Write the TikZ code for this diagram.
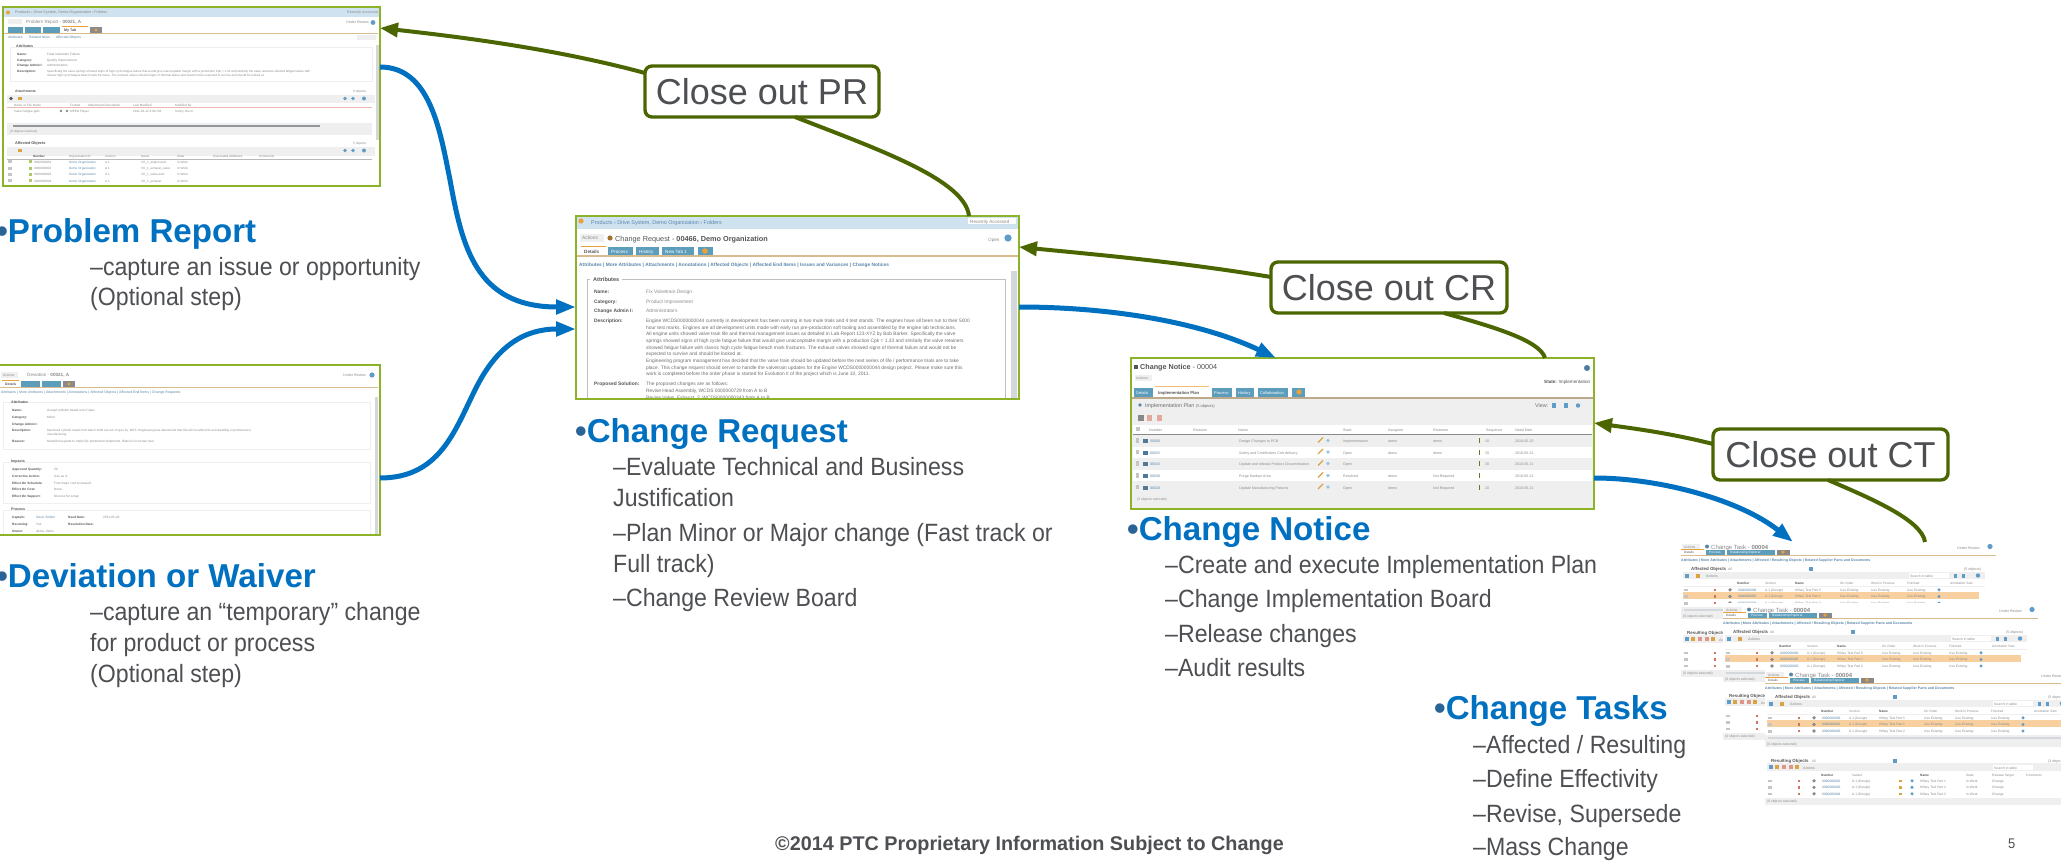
\documentclass[tikz,border=0pt]{standalone}
\usepackage{fontspec}
\setmainfont{Liberation Sans}
\newfontfamily\bodyf[FakeStretch=0.925]{Liberation Sans}
\usetikzlibrary{arrows.meta}
\definecolor{panelgreen}{HTML}{8CB22A}
\definecolor{closegreen}{HTML}{4B6600}
\definecolor{flowblue}{HTML}{0070C0}
\definecolor{bulletblue}{HTML}{2A6496}
\definecolor{bodygrey}{HTML}{4D4F53}
\definecolor{hdrblue}{HTML}{CFE2F0}
\definecolor{tabteal}{HTML}{5C9DBB}
\definecolor{tanline}{HTML}{D8BC90}
\definecolor{tabicon}{HTML}{E9A23B}
\definecolor{txgrey}{HTML}{8A8A8A}
\definecolor{txdark}{HTML}{555555}
\definecolor{txblue}{HTML}{5A86A8}
\definecolor{bandgrey}{HTML}{EFEFEF}
\definecolor{rowgrey}{HTML}{F5F5F5}
\definecolor{hlorange}{HTML}{F8CF9E}
\definecolor{scrollgrey}{HTML}{D4D8DC}
\definecolor{iconblue}{HTML}{5F9CC8}
\definecolor{pensy}{HTML}{D9A441}
\definecolor{redic}{HTML}{C8503C}
\newcounter{tn}
\newcommand\tx[5][txgrey]{\stepcounter{tn}\node[anchor=base west,inner sep=0pt,text=#1,font=\fontsize{#2}{#2}\selectfont,name=t\arabic{tn}] at (#3,#4) {#5};}
\newcommand\tb[5][txdark]{\stepcounter{tn}\node[anchor=base west,inner sep=0pt,text=#1,font=\fontsize{#2}{#2}\selectfont\bfseries,name=t\arabic{tn}] at (#3,#4) {#5};}
\newcommand\rc[5][bandgrey]{\fill[#1] (#2,#3) rectangle (#4,#5);}
\newcommand\ic[4][iconblue]{\fill[#1] (#2,#3) circle[radius=#4];}
\newcommand\hd[4][0]{\stepcounter{tn}\node[headtext,name=t\arabic{tn}] at (#2,#3) {{\color{bulletblue}•}#4};}
\newcommand\bl[3]{\stepcounter{tn}\node[bodytext,name=t\arabic{tn}] at (#1,#2) {#3};}
\newcommand\ctpanel[3]{%
\begin{scope}[shift={(#1,#2)}]
\rc[white]{0}{0}{315}{#3}
\rc[bandgrey]{1}{3.5}{19}{9.5}
\tx{3.4}{3}{8.2}{Actions}
\ic[txblue]{26}{6.5}{2}
\tx{6}{30}{9}{Change Task - \textbf{00004}}
\tx{3.6}{276}{9}{Under Review}
\ic{309}{6.5}{2.6}
\rc[white]{0}{9}{23}{14.5}
\rc[tabicon]{0}{8.5}{23}{9.2}
\rc[tabteal]{25}{9.5}{44}{14.5}
\rc[tabteal]{46}{9.5}{94}{14.5}
\rc[txdark!70]{96}{9.5}{109}{14.5}
\ic[tabicon]{102}{12}{1.8}
\tx[txdark]{3.2}{3}{13.5}{Details}
\tx[white]{3.2}{28}{13.5}{Process}
\tx[white]{3.2}{49}{13.5}{Relationship Explorer}
\rc[tanline]{0}{14.5}{315}{15.2}
\tb[txblue]{3.55}{0}{21.5}{Attributes | More Attributes | Attachments | Affected / Resulting Objects | Related Supplier Parts and Documents}
\tb{4.4}{10}{30}{Affected Objects}
\tx{3.4}{47}{30}{All}
\rc[iconblue]{128}{26.5}{132}{30.5}
\tx{3.6}{283}{30}{(5 objects)}
\rc{2}{32}{304}{39}
\rc[iconblue]{4}{33.5}{8}{37.5}
\rc[pensy]{15}{33.5}{19}{37.5}
\tx{3.6}{25}{37}{Actions}
\rc[white]{228}{33}{268}{38}
\tx{3.4}{229}{37}{Search in table}
\rc[iconblue]{273}{33.5}{276}{37.5}
\rc[iconblue]{281}{33.5}{284}{37.5}
\ic{297}{35.5}{2.2}
\rc[white]{2}{39}{304}{46}
\tb{3.2}{56}{44}{Number}
\tx{3.2}{84}{44}{Version}
\tb{3.2}{114}{44}{Name}
\tx{3.2}{159}{44}{On Order}
\tx{3.2}{190}{44}{Work in Process}
\tx{3.2}{226}{44}{Finished}
\tx{3.2}{269}{44}{Annotation Sets}
\rc[bandgrey]{2}{46}{304}{46.5}
\rc[hlorange]{2}{52}{298}{59}
\foreach \yy/\pp/\nn in {51/5/0000000006,57.7/1/0000000002,64.2/2/0000000003}{
\rc[txgrey!50]{3}{\yy-2.5}{7}{\yy+0.3}
\rc[redic!80]{33}{\yy-2.5}{35}{\yy}
\ic[txgrey]{49}{\yy-1.2}{1.8}
\tx[txblue]{3.3}{57}{\yy}{\nn}
\tx{3.3}{84}{\yy}{A.1 (Design)}
\tx{3.3}{114}{\yy}{Hillary Test Part \pp}
\tx{3.3}{159}{\yy}{Use Existing}
\tx{3.3}{190}{\yy}{Use Existing}
\tx{3.3}{226}{\yy}{Use Existing}
\ic{258}{\yy-1.2}{1.7}
}
\rc[bandgrey]{0}{67}{310}{79}
\rc[scrollgrey]{3}{68.5}{300}{71}
\tx{3.4}{2}{77}{(0 objects selected)}
\tb{4.4}{6}{94}{Resulting Objects}
\tx{3.4}{47}{94}{All}
\rc[iconblue]{128}{90.5}{132}{94.5}
\tx{3.6}{283}{94}{(3 objects)}
\rc{2}{95}{304}{103}
\rc[iconblue]{4}{97}{8}{101}
\rc[pensy]{10}{97}{14}{101}
\rc[redic!60]{17}{97}{21}{101}
\rc[redic!60]{24}{97}{28}{101}
\rc[pensy]{30}{97}{34}{101}
\tx{3.6}{38}{101}{Actions}
\rc[white]{228}{97}{268}{102}
\tx{3.4}{229}{101}{Search in table}
\tb{3.2}{56}{108}{Number}
\tx{3.2}{87}{108}{Variant}
\tb{3.2}{155}{108}{Name}
\tx{3.2}{201}{108}{State}
\tx{3.2}{227}{108}{Release Target}
\tx{3.2}{261}{108}{Comments}
\foreach \yy/\pp/\nn in {114/1/0000000002,120.6/2/0000000003,127/3/0000000004}{
\rc[txgrey!50]{3}{\yy-2.5}{7}{\yy+0.3}
\rc[redic!80]{33}{\yy-2.5}{35}{\yy}
\ic[txgrey]{49}{\yy-1.2}{1.8}
\tx[txblue]{3.3}{57}{\yy}{\nn}
\tx{3.3}{87}{\yy}{A.1 (Design)}
\rc[pensy]{134}{\yy-2.5}{137}{\yy}
\ic{147}{\yy-1.2}{1.7}
\tx{3.3}{155}{\yy}{Hillary Test Part \pp}
\tx{3.3}{201}{\yy}{In Work}
\tx{3.3}{227}{\yy}{Change}
}
\rc[bandgrey]{0}{129.5}{310}{136.5}
\tx{3.4}{2}{134}{(0 objects selected)}
\end{scope}}
\tikzset{
 panelbox/.style={rectangle,draw=panelgreen,line width=1.9pt,fill=white,inner sep=0pt,outer sep=0pt},
 panelline/.style={draw=panelgreen,line width=1.9pt},
 closebox/.style={rectangle,draw=closegreen,line width=3.4pt,rounded corners=7pt,fill=white,text=bodygrey,inner sep=0pt,outer sep=0pt,font=\fontsize{36}{36}\selectfont},
 greenflow/.style={draw=closegreen,line width=4pt,-{Triangle[length=18pt,width=14pt]}},
 greenline/.style={draw=closegreen,line width=4pt},
 blueflow/.style={draw=flowblue,line width=5pt,-{Triangle[length=20pt,width=14pt]}},
 headtext/.style={anchor=base west,inner sep=0pt,text=flowblue,font=\fontsize{33.1}{33}\selectfont\bfseries},
 bodytext/.style={anchor=base west,inner sep=0pt,text=bodygrey,font=\fontsize{25}{25}\bodyf},
}
\begin{document}
\begin{tikzpicture}[x=1pt,y=-1pt]
\useasboundingbox (0,0) rectangle (2061,861);
\fill[white] (0,0) rectangle (2061,861);
\begin{scope}
\clip (0,0) rectangle (2061,861);

% ---- Problem Report screenshot
\node[panelbox,minimum width=377pt,minimum height=179pt] (pr) at (191.5,96.5) {};
\begin{scope}
\clip (pr.north west) rectangle (pr.south east);
\rc[hdrblue]{3}{8}{380}{17}
\ic[tabicon]{8}{12.5}{2}
\tx{3.8}{15}{14}{Products › Drive System, Demo Organization › Folders}
\tx{3.6}{347}{14}{Recently Accessed}
\rc{8}{19}{22}{24}
\tx{4.6}{26}{23.5}{Problem Report - \textbf{00021, A}}
\tx{3.6}{346}{24}{Under Review}
\ic{373}{22.5}{2.4}
\rc[tabteal]{8}{27}{23}{33}
\rc[tabteal]{25}{27}{41}{33}
\rc[tabteal]{43}{27}{60}{33}
\rc[tabicon]{62}{26}{88}{26.8}
\rc[txgrey]{90}{27}{102}{33}
\ic[tabicon]{96}{30}{1.6}
\tb{3.6}{64}{31.5}{My Tab}
\rc[tanline]{3}{33}{378}{33.7}
\tx[txblue]{3.4}{8}{38.5}{Attributes}
\tx[txblue]{3.4}{29}{38.5}{Related Items}
\tx[txblue]{3.4}{56}{38.5}{Affected Objects}
\rc{357}{35}{376}{40}
\draw[bandgrey,line width=.5pt] (10,47) rectangle (372,81);
\rc[scrollgrey]{375.5}{45}{378.5}{140}
\tb{3.6}{16}{48}{Attributes}
\tb{3.2}{17}{55.5}{Name:}\tx{3.2}{47}{55.5}{Fatal Valvetrain Failure}
\tb{3.2}{17}{61.5}{Category:}\tx{3.2}{47}{61.5}{Quality Improvement}
\tb{3.2}{17}{67}{Change Admin I:}\tx{3.2}{47}{67}{Administrators}
\tb{3.2}{17}{72.5}{Description:}
\tx{3.02}{47}{72.5}{Specifically the valve springs showed signs of high cycle fatigue failure that would give unacceptable margin with a production Cpk = 1.33 and similarly the valve retainers showed fatigue failure with}
\tx{3.02}{47}{77}{classic high cycle fatigue beach mark fractures. The exhaust valves showed signs of thermal failure and would not be expected to survive and should be looked at.}
\tb{3.4}{15}{92.5}{Attachments}
\tx{3.2}{353}{92.5}{0 objects}
\rc{7}{95}{375}{103}
\ic[txdark]{11}{98.5}{1.8}
\rc[pensy]{18}{97}{22}{100.5}
\ic{345}{98.5}{1.8}\ic{353}{98.5}{1.8}\ic{364}{98.5}{2}
\tx{3.1}{14}{106.5}{Name or File Name}
\tx{3.1}{70}{106.5}{Format}
\tx{3.1}{88}{106.5}{Attachment Description}
\tx{3.1}{133}{106.5}{Last Modified}
\tx{3.1}{175}{106.5}{Modified By}
\rc[redic!40]{7}{107.5}{372}{108}
\tx{3.1}{14}{112.5}{Valve Fatigue.pptx}
\ic[txgrey]{61}{111}{1.4}\ic[txgrey]{67}{111}{1.4}
\tx{3.1}{70}{112.5}{MPEG Player}
\tx{3.1}{133}{112.5}{2011-03-12 2:04 PM}
\tx{3.1}{175}{112.5}{Sohny, Becci}
\rc{7}{123}{372}{135}
\rc[scrollgrey!70!black]{13}{125}{320}{127.5}
\tx{3.1}{10}{133}{(0 objects selected)}
\tb{3.8}{15}{144.5}{Affected Objects}
\tx{3.2}{353}{144.5}{5 objects}
\rc{7}{147}{375}{156}
\rc[pensy]{18}{149}{22}{152.5}
\ic{345}{150.5}{1.8}\ic{353}{150.5}{1.8}\ic{364}{150.5}{2}
\tb{3.1}{33}{158}{Number}
\tx{3.1}{69}{158}{Organization ID}
\tx{3.1}{105}{158}{Version}
\tx{3.1}{141}{158}{Name}
\tx{3.1}{177}{158}{State}
\tx{3.1}{213}{158}{Associated Attributes}
\tx{3.1}{259}{158}{Comments}
\rc[txgrey!60]{7}{159.3}{372}{159.8}
\foreach \yy/\aa/\bb/\cc in {163.5/0000000001/VK\_1\_engine.asm/A.1,170/0000000002/VK\_1\_exhaust\_valve/A.1,176/0000000003/VK\_1\_valve.asm/A.1,182.5/0000000004/VK\_1\_exhaust/A.1}{
\rc[txgrey!50]{8}{\yy-3}{12}{\yy}
\rc[panelgreen!70]{29}{\yy-3}{32}{\yy}
\tx{3.1}{34}{\yy}{\aa}
\tx[txblue]{3.1}{69}{\yy}{Demo Organization}
\tx{3.1}{105}{\yy}{\cc}
\tx{3.1}{141}{\yy}{\bb}
\tx{3.1}{177}{\yy}{In Work}
}
\end{scope}
\draw[panelline] (pr.north west) rectangle (pr.south east);

% ---- Deviation screenshot
\node[panelbox,minimum width=381pt,minimum height=170pt] (dv) at (189.5,450) {};
\begin{scope}
\clip (dv.north west) rectangle (dv.south east);
\rc{1}{372}{18}{378}
\tx{3.4}{3}{376.5}{Actions}
\tx{4.6}{27}{376.5}{Deviation - \textbf{00021, A}}
\tx{3.6}{343}{376.5}{Under Review}
\ic{372}{375}{2.6}
\rc[tabicon]{2}{380}{19}{380.8}
\rc[tabteal]{21}{381}{40}{387}
\rc[tabteal]{42}{381}{61}{387}
\rc[txgrey]{63}{381}{75}{387}
\ic[tabicon]{69}{384}{1.6}
\tb{3.4}{5}{385.5}{Details}
\rc[tanline]{0}{387}{378}{387.7}
\tx[txblue]{3.55}{1}{393.5}{Attributes | More Attributes | Attachments | Annotations | Affected Objects | Affected End Items | Change Requests}
\rc[scrollgrey]{375}{397}{378}{535}
\draw[bandgrey,line width=.5pt] (3,402) rectangle (370,449);
\tb{3.6}{11}{403.5}{Attributes}
\tb{3.2}{12}{411.5}{Name:}\tx{3.2}{47}{411.5}{Accept cylinder heads out of spec}
\tb{3.2}{12}{418.5}{Category:}\tx{3.2}{47}{418.5}{Minor}
\tb{3.2}{12}{425}{Change Admin I:}
\tb{3.2}{12}{431.5}{Description:}
\tx{3.02}{47}{431.5}{Machined cylinder heads from batch 2200 are out of spec by .0015. Engineering has determined that this will not affect life and durability or performance.}
\tx{3.02}{47}{435.5}{manufacturing.}
\tb{3.2}{12}{442.5}{Reason:}\tx{3.2}{47}{442.5}{Need these parts to make Q1 production shipments. Batch is in-house now.}
\draw[bandgrey,line width=.5pt] (3,462) rectangle (370,503);
\tb{3.6}{11}{462.5}{Impacts}
\tb{3.2}{12}{470.5}{Approved Quantity:}\tx{3.2}{54}{470.5}{50}
\tb{3.2}{12}{477}{Corrective Action:}\tx{3.2}{54}{477}{Use as is}
\tb{3.2}{12}{484}{Effect On Schedule:}\tx{3.2}{54}{484}{First major cost increased}
\tb{3.2}{12}{490.5}{Effect On Cost:}\tx{3.2}{54}{490.5}{None}
\tb{3.2}{12}{497}{Effect On Support:}\tx{3.2}{54}{497}{Discuss for scrap}
\draw[bandgrey,line width=.5pt] (3,510) rectangle (370,540);
\tb{3.6}{11}{510.5}{Process}
\tb{3.2}{12}{518.5}{Captain:}\tx[txblue]{3.2}{36}{518.5}{Steve Soldon}
\tb{3.2}{68}{518.5}{Need Date:}\tx{3.2}{103}{518.5}{2011-05-20}
\tb{3.2}{12}{525}{Recurring:}\tx{3.2}{36}{525}{Yes}
\tb{3.2}{68}{525}{Resolution Date:}
\tb{3.2}{12}{532}{Owner:}\tx{3.2}{36}{532}{demo, demo}
\end{scope}
\draw[panelline] (dv.north west) rectangle (dv.south east);

% ---- Change Request screenshot
\node[panelbox,minimum width=443pt,minimum height=183pt] (cr) at (797.5,307.5) {};
\begin{scope}
\clip (cr.north west) rectangle (cr.south east);
\rc[hdrblue]{576}{217}{1018}{229}
\ic[tabicon]{581}{221}{2.6}
\tx[txblue]{5.4}{591}{224.5}{Products › Drive System, Demo Organization › Folders}
\rc[white]{968}{218}{1016}{224.5}
\tx{4.6}{970}{223}{Recently Accessed}
\rc{580}{234}{604}{242}
\tx{4.8}{582}{240}{Actions}
\ic[tabicon!70!black]{610}{238}{2.6}
\tx[txdark]{7.3}{615}{241}{Change Request - \textbf{00466, Demo Organization}}
\tx{4.6}{988}{241}{Open}
\ic{1008}{238}{3.6}
\rc[tabicon]{581}{246}{606}{247}
\rc[tabteal]{608}{247}{633}{255}
\rc[tabteal]{636}{247}{659}{255}
\rc[tabteal]{662}{247}{694}{255}
\rc[tabteal]{698}{247}{713}{255}
\ic[tabicon]{705}{251}{2.8}
\tb{4.6}{584}{253}{Details}
\tx[white]{4.6}{611}{253}{Process}
\tx[white]{4.6}{639}{253}{History}
\tx[white]{4.6}{665}{253}{New Tab 1}
\rc[tanline]{576}{255.4}{1018}{256.6}
\tb[txblue]{4.8}{579}{266}{Attributes  |  More Attributes  |  Attachments  |  Annotations  |  Affected Objects  |  Affected End Items  |  Issues and Variances  |  Change Notices}
\draw[bandgrey!80!black,line width=.5pt] (587,279) rectangle (1005,405);
\rc[white]{590}{275}{622}{283}
\rc[scrollgrey]{1011}{271}{1017}{399}
\tb{5.5}{593}{281}{Attributes}
\tb[txdark]{4.9}{594}{293}{Name:}\tx{4.9}{646}{293}{Fix Valvetrain Design}
\tb[txdark]{4.9}{594}{303}{Category:}\tx{4.9}{646}{303}{Product Improvement}
\tb[txdark]{4.9}{594}{312.5}{Change Admin I:}\tx{4.9}{646}{312.5}{Administrators}
\tb[txdark]{4.9}{594}{322.5}{Description:}
\tx[txgrey!80!black]{4.85}{646}{322.5}{Engine WCDS0000000044 currently in development has been running in two mule trials and 4 test stands.  The engines have all been run to their 5000}
\tx[txgrey!80!black]{4.85}{646}{329}{hour test marks.  Engines are all development units made with early run pre-production soft tooling and assembled by the engine lab technicians.}
\tx[txgrey!80!black]{4.85}{646}{335.7}{All engine units showed valve train life and thermal management issues as detailed in Lab Report 123-XYZ by Bob Barker.  Specifically the valve}
\tx[txgrey!80!black]{4.85}{646}{342.4}{springs showed signs of high cycle fatigue failure that would give unacceptable margin with a production Cpk = 1.33 and similarly the valve retainers}
\tx[txgrey!80!black]{4.85}{646}{349}{showed fatigue failure with classic high cycle fatigue beach mark fractures.  The exhaust valves showed signs of thermal failure and would not be}
\tx[txgrey!80!black]{4.85}{646}{355.8}{expected to survive and should be looked at.}
\tx[txgrey!80!black]{4.85}{646}{362.5}{Engineering program management has decided that the valve train should be updated before the next series of life / performance trials are to take}
\tx[txgrey!80!black]{4.85}{646}{369}{place.  This change request should server to handle the valvetrain updates for the Engine WCDS0000000044 design project.  Please make sure this}
\tx[txgrey!80!black]{4.85}{646}{375.8}{work is completed before the order phase is started for Evolution II of the project which is June 10, 2011.}
\tb[txdark]{4.9}{594}{385.5}{Proposed Solution:}\tx[txgrey!80!black]{4.85}{646}{385.5}{The proposed changes are as follows:}
\tx[txgrey!80!black]{4.85}{646}{392}{Revise Head Assembly, WCDS 0000000729 from A to B}
\tx[txgrey!80!black]{4.85}{646}{399}{Revise Valve, Exhaust\_2, WCDS0000000343 from A to B}
\end{scope}
\draw[panelline] (cr.north west) rectangle (cr.south east);

% ---- Change Notice screenshot
\node[panelbox,minimum width=463pt,minimum height=151pt] (cn) at (1362.5,433.5) {};
\begin{scope}
\clip (cn.north west) rectangle (cn.south east);
\rc[txdark]{1134}{365}{1138}{369}
\tb[txgrey!60!black]{7.2}{1140}{369}{Change Notice \textmd{- 00004}}
\rc{1135}{375}{1152}{381}
\tx{3.6}{1136}{379.5}{Actions}
\ic[iconblue!80!black]{1587}{368}{3}
\tb{4.6}{1544}{383}{State: \textmd{Implementation}}
\rc[tabicon!70]{1155}{386}{1209}{387}
\rc[tabteal]{1134}{388}{1153}{397}
\rc[tabteal]{1212}{388}{1232}{397}
\rc[tabteal]{1236}{388}{1254}{397}
\rc[tabteal]{1258}{388}{1288}{397}
\rc[tabteal]{1292}{388}{1305}{397}
\ic[tabicon]{1299}{392}{2.6}
\tx[white]{4}{1136}{394.5}{Details}
\tb{4.2}{1158}{394.5}{Implementation Plan}
\tx[white]{4}{1214}{394.5}{Process}
\tx[white]{4}{1238}{394.5}{History}
\tx[white]{4}{1260}{394.5}{Collaboration}
\rc[tanline!70!gray]{1132}{396.5}{1593}{399}
\rc{1132}{399}{1593}{508}
\ic[txblue]{1140}{405}{1.8}
\tx[txgrey!80!black]{5.4}{1145}{407.5}{Implementation Plan \fontsize{4}{4}\selectfont (5 objects)}
\tx[txgrey!80!black]{5.4}{1535}{407.5}{View:}
\rc[iconblue]{1552}{403}{1556}{408}
\rc[iconblue]{1564}{403}{1568}{408}
\ic{1578}{405.5}{2.2}
\rc[txdark!70]{1138}{415}{1144}{421}
\rc[redic!50]{1147}{415}{1152}{421}
\rc[redic!50]{1157}{415}{1162}{421}
\rc[white]{1133}{425}{1592}{433.5}
\rc[txgrey]{1133}{433.5}{1592}{434.2}
\rc[txgrey!50]{1136}{427}{1140}{431}
\tx{3.6}{1149}{431.5}{Number}
\tx{3.6}{1193}{431.5}{Revision}
\tx{3.6}{1238}{431.5}{Name}
\tx{3.6}{1343}{431.5}{State}
\tx{3.6}{1388}{431.5}{Assignee}
\tx{3.6}{1433}{431.5}{Reviewer}
\tx{3.6}{1486}{431.5}{Sequence}
\tx{3.6}{1515}{431.5}{Need Date}
\rc[white]{1133}{447}{1592}{458}
\rc[white]{1133}{470}{1592}{481}
\foreach \yy/\nb/\nm/\st/\as/\re/\sq/\nd in {
 442.5/00006/Design Changes to PCB/Implementation/demo/demo/10/2010-05-20,
 454/00032/Safety and Certification Cert delivery/Open/demo/demo/20/2010-05-21,
 465.5/00033/Update and release Product Documentation/Open///30/2010-05-21,
 477.5/00030/Purge Kanban Area/Resolved/demo/Not Required//2010-05-21,
 489/00028/Update Manufacturing Fixtures/Open/demo/Not Required/20/2010-05-21}{
\rc[txgrey!50]{1136}{\yy-4.5}{1139}{\yy}
\rc[txblue!90!black]{1143}{\yy-3.5}{1148}{\yy+.5}
\tx[txblue]{3.6}{1150}{\yy}{\nb}
\tx{3.6}{1239}{\yy}{\nm}
\draw[pensy,line width=1.2pt] (1318,\yy) -- (1323,\yy-5);
\ic[iconblue!60]{1328}{\yy-2}{1.8}
\tx{3.6}{1343}{\yy}{\st}
\tx{3.6}{1388}{\yy}{\as}
\tx{3.6}{1433}{\yy}{\re}
\rc[panelgreen!70!black]{1479}{\yy-4.5}{1480}{\yy+.5}
\tx{3.6}{1485}{\yy}{\sq}
\tx{3.6}{1515}{\yy}{\nd}
}
\tx{3.4}{1137}{500.5}{(5 objects selected)}
\end{scope}
\draw[panelline] (cn.north west) rectangle (cn.south east);

% ---- Change Task screenshots
\ctpanel{1681}{540}{137}
\ctpanel{1723}{603}{137}
\ctpanel{1765}{668}{137}
\coordinate (ctin) at (1793,542);
\coordinate (ctout) at (1925,542);
\end{scope}

% ---- close-out boxes
\node[closebox,minimum width=234pt,minimum height=51pt] (cpr) at (762,91.5) {Close out PR};
\node[closebox,minimum width=236pt,minimum height=51pt] (ccr) at (1389,287.5) {Close out CR};
\node[closebox,minimum width=235pt,minimum height=51pt] (cct) at (1830.5,454.5) {Close out CT};

% ---- connectors: forward flow
\draw[blueflow] (pr.east |- 0,67) .. controls (430,67) and (440,130) .. (450,180) .. controls (462,245) and (475,307) .. (cr.west |- 0,307);
\draw[blueflow] (dv.east |- 0,478) .. controls (440,478) and (455,430) .. (475,390) .. controls (497,345) and (525,329) .. (cr.west |- 0,329);
\draw[blueflow] (cr.east |- 0,307) .. controls (1110,307) and (1200,322) .. (cn.north -| 1276,0);
\draw[blueflow] (cn.east |- 0,478) .. controls (1660,478) and (1740,500) .. (ctin);

% ---- connectors: close-out flow
\draw[greenflow] (cpr.west |- 0,73) .. controls (560,50) and (470,38) .. (pr.east |- 0,28);
\draw[greenline] (cpr.south -| 795,0) .. controls (880,150) and (965,180) .. (cr.north -| 969,0);
\draw[greenflow] (ccr.west |- 0,277) .. controls (1180,262) and (1100,255) .. (cr.east |- 0,247);
\draw[greenline] (ccr.south -| 1444,0) .. controls (1490,326) and (1540,340) .. (cn.north -| 1545,0);
\draw[greenflow] (cct.west |- 0,444) .. controls (1670,433) and (1630,428) .. (cn.east |- 0,423);
\draw[greenline] (cct.south -| 1828,0) .. controls (1870,498) and (1922,520) .. (ctout);

% ---- captions
\hd{-3.8}{242}{Problem Report}
\bl{90}{275}{–capture an issue or opportunity}
\bl{90}{305}{(Optional step)}
\hd{-3.8}{587}{Deviation or Waiver}
\bl{90}{620}{–capture an “temporary” change}
\bl{90}{651}{for product or process}
\bl{90}{682}{(Optional step)}
\hd{575}{442}{Change Request}
\bl{613}{475}{–Evaluate Technical and Business}
\bl{613}{506}{Justification}
\bl{613}{541}{–Plan Minor or Major change (Fast track or}
\bl{613}{572}{Full track)}
\bl{613}{606}{–Change Review Board}
\hd{1127}{540}{Change Notice}
\bl{1165}{573}{–Create and execute Implementation Plan}
\bl{1165}{607}{–Change Implementation Board}
\bl{1165}{642}{–Release changes}
\bl{1165}{676}{–Audit results}
\hd{1434}{719}{Change Tasks}
\bl{1473}{753}{–Affected / Resulting}
\bl{1473}{787}{–Define Effectivity}
\bl{1473}{822}{–Revise, Supersede}
\bl{1473}{855}{–Mass Change}
\node[anchor=base west,inner sep=0pt,text=bodygrey,font=\fontsize{19.8}{20}\selectfont\bfseries] (foot) at (775,850) {©2014 PTC Proprietary Information Subject to Change};
\node[anchor=base west,inner sep=0pt,text=bodygrey,font=\fontsize{14}{14}\bodyf] (pg) at (2008,848) {5};
\end{tikzpicture}
\end{document}
